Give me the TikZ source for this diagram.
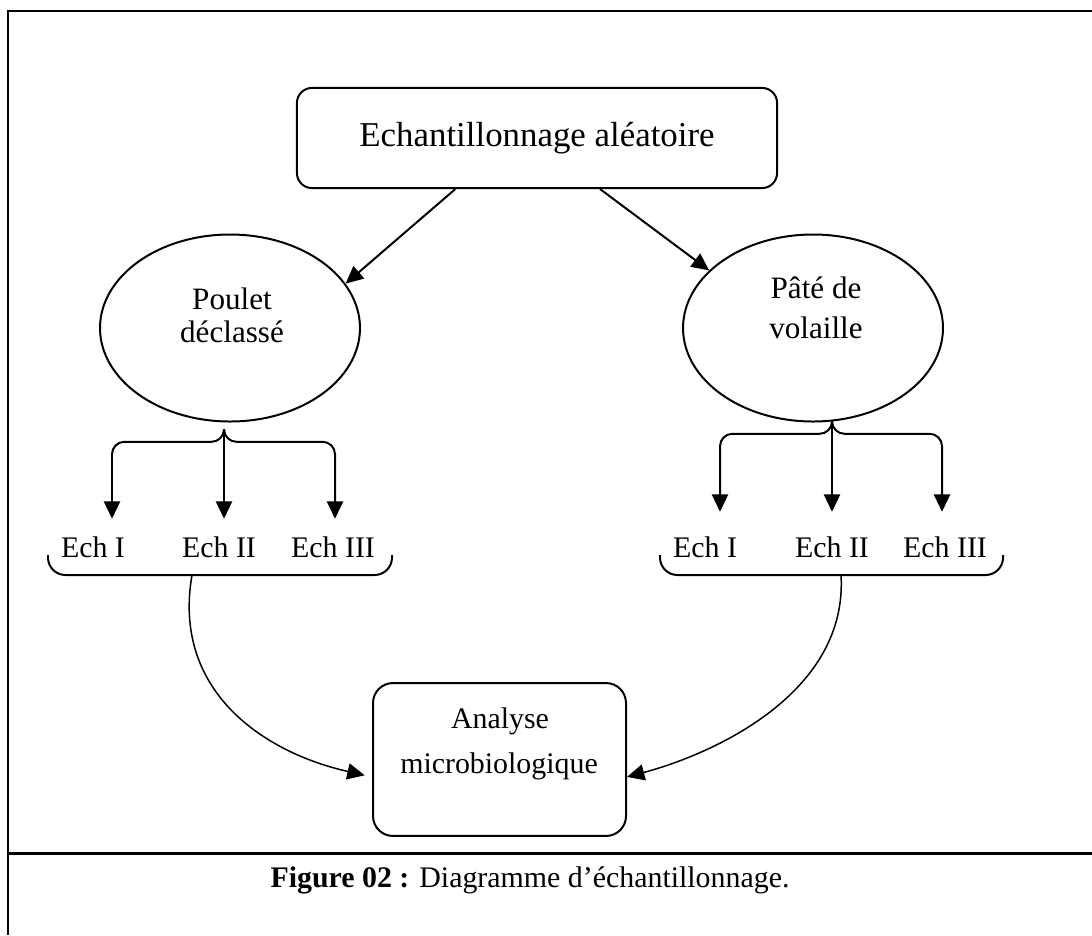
\documentclass[tikz,border=0pt]{standalone}
\usepackage{fontspec}
\setmainfont{Liberation Serif}
\usetikzlibrary{arrows.meta, positioning, shapes.geometric, calc}

\begin{document}
\begin{tikzpicture}[
		x=0.4016pt, y=-0.4016pt,
		box/.style={draw, line width=0.8pt, minimum width=192.8pt, minimum height=40.2pt, rounded corners=6pt, font=\fontsize{14}{17}\selectfont},
		oval/.style={draw, ellipse, line width=0.8pt, minimum width=104.4pt, minimum height=75.1pt},
		lbl/.style={anchor=base, inner sep=0pt, font=\fontsize{12}{14}\selectfont},
		arr/.style={-{Triangle[length=7pt,width=6.5pt]}, line width=0.8pt},
		brace/.style={line width=0.8pt, rounded corners=7pt},
		link/.style={-{Triangle[length=7pt,width=6.5pt]}, line width=0.6pt}
		]
		\useasboundingbox (0,0) rectangle (1092,935);
		% frame
		\draw[line width=0.8pt] (8,935) -- (8,11) -- (1092,11);
		\draw[line width=1.2pt] (8,853) -- (1092,853);
		
		\node[box] (sampling) at (537,138) {Echantillonnage aléatoire};
		\node[oval] (poulet) at (230,328) {};
		\node[oval] (pate) at (813,328) {};
		\node[lbl, font=\fontsize{12.5}{14}\selectfont] (pouletA) at (232,309) {Poulet};
		\node[lbl, font=\fontsize{12.5}{14}\selectfont] (pouletB) at (232,342) {déclassé};
		\node[lbl, font=\fontsize{12.5}{14}\selectfont] (pateA) at (816,298) {Pâté de};
		\node[lbl, font=\fontsize{12.5}{14}\selectfont] (pateB) at (816,338) {volaille};
		\draw[arr] (sampling.-148.3) -- (poulet.21);
		\draw[arr] (sampling.-39.3) -- (pate.151.5);
		
		% samples
		\node[lbl] (lech1) at (93,557) {Ech I};
		\node[lbl] (lech2) at (219,557) {Ech II};
		\node[lbl] (lech3) at (333,557) {Ech III};
		\node[lbl] (rech1) at (705,557) {Ech I};
		\node[lbl] (rech2) at (832,557) {Ech II};
		\node[lbl] (rech3) at (945,557) {Ech III};
		
		\coordinate (ltip) at ([shift={(-6,8)}]poulet.south);
		\coordinate (l1) at ([shift={(19,-17)}]lech1.north);
		\coordinate (l2) at ([shift={(5,-17)}]lech2.north);
		\coordinate (l3) at ([shift={(2,-17)}]lech3.north);
		\coordinate (rtip) at ([shift={(19,4)}]pate.south);
		\coordinate (r1) at ([shift={(15,-24)}]rech1.north);
		\coordinate (r2) at ([shift={(0,-24)}]rech2.north);
		\coordinate (r3) at ([shift={(-3,-24)}]rech3.north);
		
		\draw[arr, rounded corners=5pt] (ltip) |- ($(l1)+(0,-77)$) -- (l1);
		\draw[arr, rounded corners=5pt] (ltip) |- ($(l3)+(0,-77)$) -- (l3);
		\draw[arr] (ltip) -- (l2);
		\draw[arr, rounded corners=5pt] (rtip) |- ($(r1)+(0,-78)$) -- (r1);
		\draw[arr, rounded corners=5pt] (rtip) |- ($(r3)+(0,-78)$) -- (r3);
		\draw[arr] (rtip) -- (r2);
		
		\draw[brace] (48,555) -- (48,575) -- (392,575) -- (392,555);
		\draw[brace] (660,555) -- (660,575) -- (1003,575) -- (1003,555);
		\coordinate (lstart) at (192,575);
		\coordinate (rstart) at (841,575);
		
		% analysis
		\node[box, minimum width=101.6pt, minimum height=61.4pt, rounded corners=8pt] (analyse) at (499.5,759.5) {};
		\node[lbl] (analyseA) at (500,728) {Analyse};
		\node[lbl] (analyseB) at (499,773) {microbiologique};
		\draw[link, shorten >=3pt] (lstart) .. controls (172,690) and (262,752) .. ([yshift=-7]analyse.west);
		\draw[link] (rstart) .. controls (848,690) and (720,752) .. ([yshift=-7]analyse.east);
		
		\node[lbl] (caption) at (530,887) {\textbf{Figure 02 :} Diagramme d’échantillonnage.};
	\end{tikzpicture}
\end{document}
